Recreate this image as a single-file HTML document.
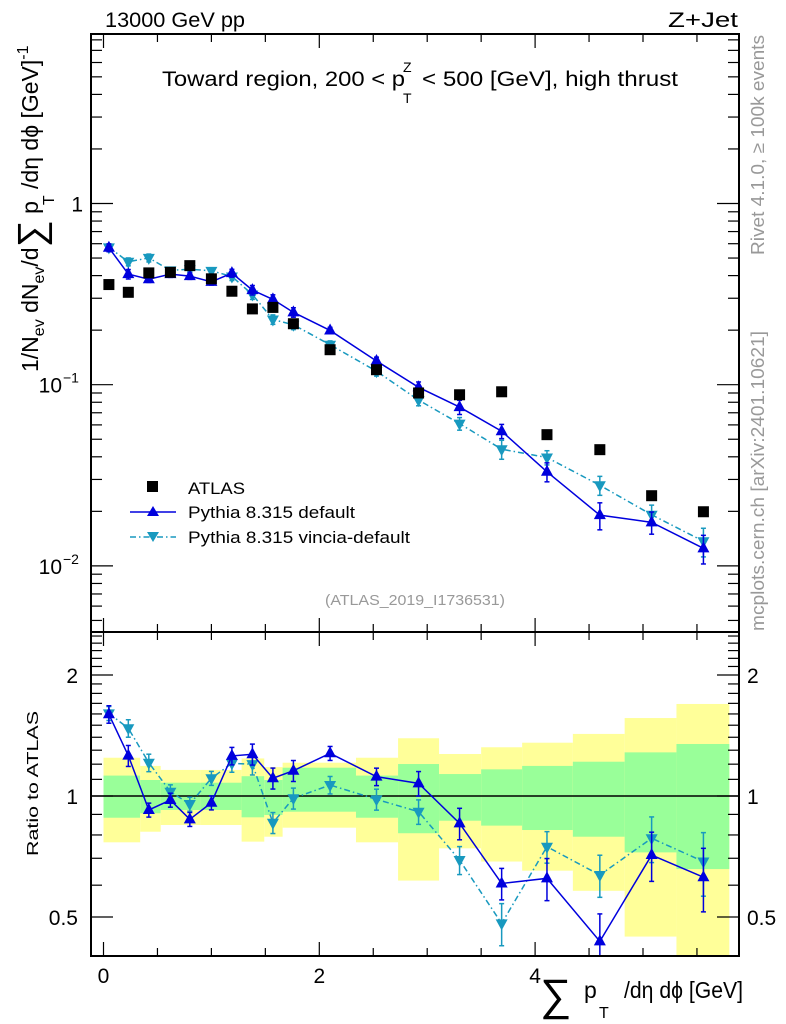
<!DOCTYPE html>
<html><head><meta charset="utf-8"><style>
html,body{margin:0;padding:0;background:#fff;}
svg{display:block;font-family:"Liberation Sans",sans-serif;}
</style></head><body>
<svg id="chart" width="786" height="1024" viewBox="0 0 786 1024" xmlns="http://www.w3.org/2000/svg">
<defs><clipPath id="ratioClip"><rect x="91" y="632" width="648" height="324"/></clipPath></defs>
<g id="bands" clip-path="url(#ratioClip)"></g>
<g id="marks"></g>
<g id="rmarks" clip-path="url(#ratioClip)"></g>
<g id="axes"></g>
<text x="105" y="27" font-size="21" textLength="140" lengthAdjust="spacingAndGlyphs">13000 GeV pp</text>
<text x="668" y="27" font-size="21" textLength="70" lengthAdjust="spacingAndGlyphs">Z+Jet</text>
<g>
<text x="162" y="86" font-size="21" textLength="243" lengthAdjust="spacingAndGlyphs">Toward region, 200 &lt; p</text>
<text x="403" y="72" font-size="14">Z</text>
<text x="403" y="103" font-size="14">T</text>
<text x="422" y="86" font-size="21" textLength="256" lengthAdjust="spacingAndGlyphs">&lt; 500 [GeV], high thrust</text>
</g>
<text transform="translate(764,255) rotate(-90)" font-size="18" fill="#999" textLength="220" lengthAdjust="spacingAndGlyphs">Rivet 4.1.0, ≥ 100k events</text>
<text transform="translate(764,631) rotate(-90)" font-size="18" fill="#999" textLength="300" lengthAdjust="spacingAndGlyphs">mcplots.cern.ch [arXiv:2401.10621]</text>
<text x="325" y="605" font-size="15" fill="#999" textLength="180" lengthAdjust="spacingAndGlyphs">(ATLAS_2019_I1736531)</text>
<g transform="translate(38,372) rotate(-90)">
<text x="0" y="0" font-size="23">1/N<tspan font-size="16" dy="6">ev</tspan><tspan dy="-6"> dN</tspan><tspan font-size="16" dy="6">ev</tspan><tspan dy="-6">/d</tspan><tspan font-size="38" dy="6">∑</tspan><tspan dy="-6"> p</tspan><tspan font-size="16" dy="16" dx="-4">T</tspan><tspan dy="-16"> /dη dϕ  [GeV]</tspan><tspan font-size="16" dy="-10">-1</tspan></text>
</g>
<text transform="translate(38,856) rotate(-90)" font-size="16" textLength="145" lengthAdjust="spacingAndGlyphs">Ratio to ATLAS</text>
<g>
<text x="540" y="1010" font-size="44">∑</text>
<text x="584" y="998" font-size="23">p</text>
<text x="599" y="1018" font-size="16">T</text>
<text x="624" y="998" font-size="23" textLength="119" lengthAdjust="spacingAndGlyphs">/dη dϕ [GeV]</text>
</g>
<g>
<g><rect x="147" y="481" width="11" height="11" fill="#000"/><text x="188" y="494" font-size="17" textLength="57" lengthAdjust="spacingAndGlyphs">ATLAS</text></g>
<g><line x1="130" y1="512" x2="176" y2="512" stroke="#0000dd" stroke-width="1.5"/><polygon points="153,506 159,516 147,516" fill="#0000dd"/><text x="188" y="518" font-size="17" textLength="167" lengthAdjust="spacingAndGlyphs">Pythia 8.315 default</text></g>
<g><line x1="130" y1="537" x2="176" y2="537" stroke="#1899bf" stroke-width="1.5" stroke-dasharray="6,3,1.5,3"/><polygon points="147,532 159,532 153,542" fill="#1899bf"/><text x="188" y="543" font-size="17" textLength="222" lengthAdjust="spacingAndGlyphs">Pythia 8.315 vincia-default</text></g>
</g>
</svg>
<script>
const xCenters=[0.05,0.23,0.42,0.62,0.80,1.0,1.19,1.38,1.57,1.76,2.10,2.53,2.92,3.30,3.69,4.11,4.60,5.08,5.56];
const atlasValues=[0.357,0.3235,0.414,0.417,0.454,0.384,0.328,0.262,0.267,0.217,0.156,0.121,0.090,0.088,0.0914,0.053,0.0438,0.0244,0.0199];
const defaultRatio=[1.597,1.26,0.923,0.977,0.875,0.962,1.258,1.27,1.107,1.156,1.277,1.117,1.075,0.855,0.606,0.624,0.435,0.713,0.628];
const vinciaRatio=[1.605,1.474,1.21,1.025,0.955,1.107,1.206,1.2,0.858,0.987,1.065,0.981,0.914,0.693,0.482,0.748,0.636,0.785,0.687];
const defaultRelErr=[0.05,0.06,0.04,0.04,0.04,0.04,0.05,0.06,0.06,0.06,0.04,0.05,0.07,0.09,0.09,0.12,0.17,0.14,0.18];
const vinciaRelErr=[0.04,0.05,0.05,0.04,0.04,0.04,0.05,0.06,0.06,0.06,0.05,0.06,0.07,0.08,0.12,0.09,0.12,0.13,0.18];
const bandEdges=[0,0.34,0.53,0.9,1.28,1.49,1.66,2.34,2.73,3.11,3.5,3.88,4.35,4.83,5.31,5.8];
const yellowHi=[1.245,1.188,1.161,1.161,1.24,1.18,1.21,1.245,1.392,1.272,1.322,1.357,1.427,1.563,1.694];
const yellowLo=[0.767,0.815,0.847,0.847,0.77,0.792,0.834,0.767,0.616,0.741,0.687,0.652,0.581,0.447,0.38];
const greenHi=[1.124,1.096,1.079,1.079,1.12,1.096,1.176,1.124,1.201,1.134,1.165,1.188,1.217,1.284,1.347];
const greenLo=[0.883,0.906,0.923,0.923,0.885,0.897,0.914,0.883,0.808,0.868,0.844,0.823,0.792,0.724,0.658];
const xTickLabels=["0","2","4"];
const mainYLabels=[[1,"1"],[0.1,"10"],[0.01,"10"]];
const ratioYLabels=[[2,"2"],[1,"1"],[0.5,"0.5"]];

const NS="http://www.w3.org/2000/svg";
const L=91,R=739,T1=34,B1=632,T2=632,B2=956;
const X=v=>103.5+v*107.9;
const Ym=v=>203.5-Math.log10(v)*181.2;
const Yr=v=>796-Math.log10(v)*402;
function mk(parent,tag,attrs,text){const e=document.createElementNS(NS,tag);for(const k in attrs)e.setAttribute(k,attrs[k]);if(text!==undefined)e.textContent=text;parent.appendChild(e);return e;}
const bands=document.getElementById('bands'),marks=document.getElementById('marks'),rmarks=document.getElementById('rmarks'),axes=document.getElementById('axes');

for(let i=0;i<yellowHi.length;i++){
 const x1=X(bandEdges[i]),x2=X(bandEdges[i+1]);
 const y1=Yr(yellowHi[i]),y2=Yr(yellowLo[i]);
 const yb=mk(bands,'rect',{x:x1,y:y1,width:x2-x1,height:y2-y1,fill:'#ffff99'});
 
 
 const gb=mk(bands,'rect',{x:x1,y:Yr(greenHi[i]),width:x2-x1,height:Yr(greenLo[i])-Yr(greenHi[i]),fill:'#99ff99'});
 
 
}
const one=mk(rmarks,'line',{x1:L,x2:R,y1:Yr(1),y2:Yr(1),stroke:'#000','stroke-width':1.5});



function series(parent,vals,errs,Y,color,dash,up,name){
 const g=mk(parent,'g',{});
 
 
 let d='';
 vals.forEach((v,i)=>{d+=(i?'L':'M')+X(xCenters[i])+','+Y(v);});
 mk(g,'path',{d:d,fill:'none',stroke:color,'stroke-width':1.5,'stroke-dasharray':dash});
 vals.forEach((v,i)=>{
  const x=X(xCenters[i]),y=Y(v);
  const ya=Y(v*(1+errs[i])),yb=Y(v*(1-errs[i]));
  mk(g,'line',{x1:x,x2:x,y1:ya,y2:yb,stroke:color,'stroke-width':1.5});
  mk(g,'line',{x1:x-2.5,x2:x+2.5,y1:ya,y2:ya,stroke:color,'stroke-width':1.5});
  mk(g,'line',{x1:x-2.5,x2:x+2.5,y1:yb,y2:yb,stroke:color,'stroke-width':1.5});
  const p=up?`${x},${y-7} ${x+6},${y+4} ${x-6},${y+4}`:`${x-6},${y-4} ${x+6},${y-4} ${x},${y+7}`;
  const m=mk(g,'polygon',{points:p,fill:color});
  
  
 });
}
const defVals=atlasValues.map((v,i)=>v*defaultRatio[i]);
const vinVals=atlasValues.map((v,i)=>v*vinciaRatio[i]);
series(marks,vinVals,vinciaRelErr,Ym,'#1899bf','6,3,1.5,3',false,'vincia-main-series');
series(marks,defVals,defaultRelErr,Ym,'#0000dd','',true,'default-main-series');
atlasValues.forEach((v,i)=>{
 const r=mk(marks,'rect',{x:X(xCenters[i])-5.5,y:Ym(v)-5.5,width:11,height:11,fill:'#000'});
 
 
});
series(rmarks,vinciaRatio,vinciaRelErr,Yr,'#1899bf','6,3,1.5,3',false,'vincia-ratio-series');
series(rmarks,defaultRatio,defaultRelErr,Yr,'#0000dd','',true,'default-ratio-series');

[[T1,B1,'main-frame'],[T2,B2,'ratio-frame']].forEach(([t,b,n])=>{
 const f=mk(axes,'rect',{x:L,y:t,width:R-L,height:b-t,fill:'none',stroke:'#000','stroke-width':2});
 
 
});
for(let v=0;v<=5.8;v+=0.5){
 const x=X(v),maj=Math.abs(v%2)<1e-6,len=maj?14:8;
 [[T1,1],[B1,-1],[T2,1],[B2,-1]].forEach(([y,s])=>mk(axes,'line',{x1:x,x2:x,y1:y,y2:y+s*len,stroke:'#000','stroke-width':1.2}));
}
xTickLabels.forEach((t,i)=>{const e=mk(axes,'text',{x:X(i*2),y:983,'font-size':21,'text-anchor':'middle'},t);});
for(let dec=-3;dec<=0;dec++)for(let m=1;m<=9;m++){
 const v=m*Math.pow(10,dec),y=Ym(v);if(y<T1||y>B1)continue;
 const len=m===1?22:11;
 mk(axes,'line',{x1:L,x2:L+len,y1:y,y2:y,stroke:'#000','stroke-width':1.2});
 mk(axes,'line',{x1:R,x2:R-len,y1:y,y2:y,stroke:'#000','stroke-width':1.2});
}
mainYLabels.forEach(([v,t],i)=>{
 const e=mk(axes,'text',{x:i?62:83,y:Ym(v)+8,'font-size':21,'text-anchor':'end'},t);
 
 
 if(i){const s=mk(axes,'text',{x:63,y:Ym(v)-2,'font-size':14},'−'+i);}
});
for(let k=4;k<=25;k++){
 const v=k/10,y=Yr(v);if(y<T2||y>B2)continue;
 const len=(k===5||k===10||k===20)?22:11;
 mk(axes,'line',{x1:L,x2:L+len,y1:y,y2:y,stroke:'#000','stroke-width':1.2});
 mk(axes,'line',{x1:R,x2:R-len,y1:y,y2:y,stroke:'#000','stroke-width':1.2});
}
ratioYLabels.forEach(([v,t])=>{
 const a=mk(axes,'text',{x:78,y:Yr(v)+8,'font-size':21,'text-anchor':'end'},t);
 
 
 const b=mk(axes,'text',{x:747,y:Yr(v)+8,'font-size':21},t);
 
 
});
</script>
</body></html>
